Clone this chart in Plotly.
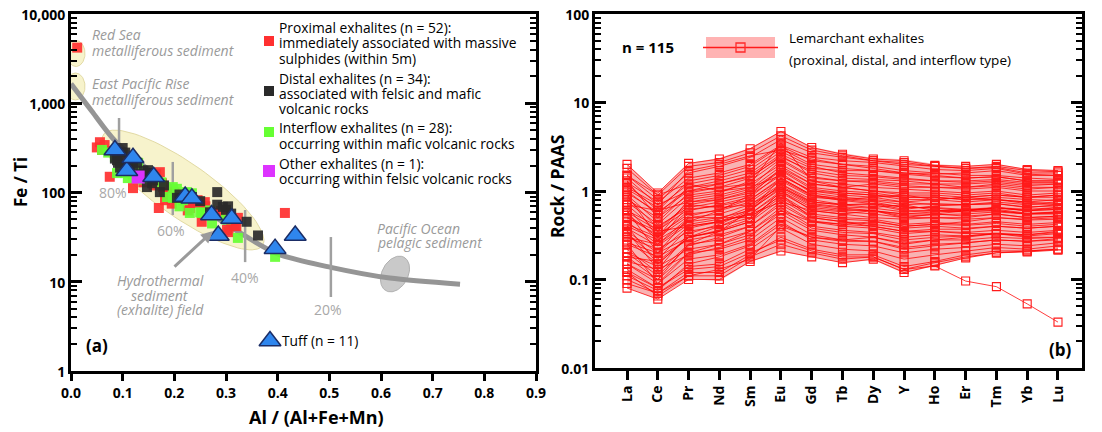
import numpy as np
import plotly.graph_objects as go

# ---------------- Panel (a) data ----------------
prox_x = [0.012, 0.050, 0.056, 0.060, 0.065, 0.075, 0.080, 0.090, 0.095, 0.099, 0.100, 0.105, 0.108, 0.110,
          0.115, 0.120, 0.125, 0.130, 0.140, 0.150, 0.160, 0.165, 0.170, 0.172, 0.176, 0.178, 0.180, 0.182,
          0.190, 0.195, 0.200, 0.215, 0.220, 0.226, 0.230, 0.235, 0.240, 0.245, 0.253, 0.259, 0.260, 0.279,
          0.290, 0.300, 0.302, 0.304, 0.305, 0.310, 0.312, 0.317, 0.320, 0.323, 0.414]
prox_y = [4200, 320, 366, 300, 340, 150, 290, 260, 192, 250, 230, 203, 219, 200,
          180, 112, 170, 150, 130, 140, 120, 160, 67, 169, 127, 115, 105, 82,
          95, 75, 100, 88, 82, 63, 67, 80, 76, 82, 47, 78, 70, 59,
          62, 54, 38, 56, 36, 48, 47, 43, 42, 52, 59]

dist_x = [0.085, 0.089, 0.091, 0.095, 0.099, 0.100, 0.105, 0.110, 0.114, 0.120, 0.128, 0.135, 0.140, 0.147,
          0.147, 0.149, 0.153, 0.157, 0.159, 0.172, 0.180, 0.205, 0.210, 0.234, 0.250, 0.269, 0.283, 0.283,
          0.294, 0.300, 0.304, 0.310, 0.340, 0.362]
dist_y = [240, 230, 215, 190, 262, 315, 280, 200, 178, 190, 215, 160, 175, 150,
          115, 178, 165, 127, 137, 101, 120, 87, 95, 89, 80, 60, 101, 73,
          69, 64, 70, 58, 47, 33]

intf_x = [0.060, 0.072, 0.085, 0.089, 0.095, 0.105, 0.110, 0.120, 0.128, 0.130, 0.140, 0.155, 0.175, 0.186,
          0.197, 0.197, 0.205, 0.210, 0.217, 0.224, 0.230, 0.234, 0.250, 0.253, 0.269, 0.273, 0.300, 0.323, 0.395]
intf_y = [300, 280, 250, 165, 200, 165, 145, 160, 193, 215, 140, 150, 130, 89,
          115, 87, 110, 70, 82, 101, 59, 98, 60, 59, 63, 45, 50, 31, 19]

other_x = [0.130]
other_y = [149]

tuff_x = [0.085, 0.108, 0.120, 0.221, 0.234, 0.272, 0.285, 0.311, 0.395, 0.434, 0.160]
tuff_y = [300, 175, 245, 90, 86, 56, 33, 51, 23.5, 33, 150]

# mixing curve and percent markers
curve_x = [0.0, 0.04, 0.087, 0.197, 0.337, 0.40, 0.503, 0.617, 0.753]
curve_y = [1650, 820, 370, 112, 32.6, 20.5, 14.5, 11.0, 9.4]
pct_labels = ["80%", "60%", "40%", "20%"]
pct_x = [0.093, 0.197, 0.337, 0.503]
pct_ylo = [299, 56, 16.6, 6.75]
pct_yhi = [684, 220, 63.7, 31.7]

# ---------------- Panel (b) data ----------------
elements = ["La", "Ce", "Pr", "Nd", "Sm", "Eu", "Gd", "Tb", "Dy", "Y", "Ho", "Er", "Tm", "Yb", "Lu"]
band_hi = [2.02, 0.95, 2.07, 2.36, 3.06, 4.76, 3.14, 2.69, 2.36, 2.29, 2.02, 1.92, 2.02, 1.77, 1.73]
band_lo = [0.080, 0.060, 0.101, 0.096, 0.158, 0.205, 0.180, 0.154, 0.166, 0.118, 0.142, 0.175, 0.200, 0.205, 0.215]
samples = [
    [2.0, 0.95, 2.05, 2.3, 3.0, 4.7, 3.1, 2.6, 2.3, 2.2, 1.95, 1.9, 2.0, 1.75, 1.7],
    [1.5, 0.8, 1.6, 1.9, 2.4, 3.8, 2.7, 2.4, 2.2, 2.1, 1.9, 1.8, 1.85, 1.6, 1.6],
    [1.2, 0.6, 1.3, 1.5, 1.9, 3.2, 2.2, 2.0, 1.9, 1.7, 1.6, 1.5, 1.5, 1.4, 1.35],
    [1.0, 0.55, 1.1, 1.3, 1.6, 2.8, 1.9, 1.6, 1.5, 1.4, 1.3, 1.25, 1.3, 1.2, 1.2],
    [0.9, 0.45, 0.95, 1.1, 1.4, 2.5, 1.6, 1.4, 1.35, 1.3, 1.2, 1.1, 1.15, 1.05, 1.1],
    [0.8, 0.5, 0.9, 1.0, 1.2, 2.0, 1.3, 1.2, 1.1, 1.05, 1.0, 0.95, 1.0, 0.9, 0.95],
    [0.7, 0.35, 0.75, 0.85, 1.05, 1.9, 1.2, 1.1, 1.0, 0.9, 0.9, 0.85, 0.9, 0.85, 0.85],
    [0.6, 0.4, 0.65, 0.75, 0.9, 1.5, 1.0, 0.95, 0.9, 0.8, 0.8, 0.75, 0.8, 0.75, 0.8],
    [0.55, 0.3, 0.6, 0.7, 0.85, 1.6, 0.95, 0.85, 0.8, 0.75, 0.7, 0.7, 0.72, 0.65, 0.7],
    [0.5, 0.32, 0.55, 0.6, 0.75, 1.3, 0.85, 0.8, 0.75, 0.65, 0.65, 0.62, 0.65, 0.6, 0.62],
    [0.45, 0.25, 0.5, 0.55, 0.7, 1.2, 0.8, 0.7, 0.7, 0.6, 0.6, 0.58, 0.6, 0.55, 0.58],
    [0.4, 0.28, 0.45, 0.5, 0.6, 1.1, 0.7, 0.65, 0.6, 0.55, 0.55, 0.52, 0.55, 0.5, 0.52],
    [0.35, 0.2, 0.4, 0.45, 0.55, 0.95, 0.62, 0.58, 0.55, 0.5, 0.5, 0.48, 0.5, 0.47, 0.48],
    [0.3, 0.22, 0.35, 0.4, 0.5, 0.9, 0.55, 0.5, 0.48, 0.42, 0.44, 0.42, 0.45, 0.42, 0.44],
    [0.28, 0.15, 0.3, 0.35, 0.45, 0.8, 0.5, 0.45, 0.42, 0.38, 0.4, 0.38, 0.4, 0.38, 0.4],
    [0.25, 0.18, 0.28, 0.32, 0.4, 0.7, 0.45, 0.4, 0.38, 0.33, 0.35, 0.34, 0.36, 0.34, 0.36],
    [0.22, 0.12, 0.25, 0.28, 0.35, 0.65, 0.4, 0.36, 0.34, 0.3, 0.32, 0.31, 0.33, 0.31, 0.33],
    [0.2, 0.14, 0.22, 0.25, 0.32, 0.55, 0.36, 0.32, 0.3, 0.26, 0.28, 0.28, 0.3, 0.29, 0.3],
    [0.18, 0.1, 0.2, 0.22, 0.28, 0.5, 0.32, 0.28, 0.27, 0.23, 0.25, 0.26, 0.28, 0.27, 0.28],
    [0.15, 0.09, 0.17, 0.19, 0.25, 0.45, 0.28, 0.25, 0.24, 0.2, 0.22, 0.23, 0.25, 0.24, 0.26],
    [0.13, 0.08, 0.14, 0.15, 0.22, 0.38, 0.25, 0.22, 0.21, 0.17, 0.19, 0.21, 0.23, 0.22, 0.24],
    [0.1, 0.07, 0.12, 0.12, 0.19, 0.3, 0.22, 0.19, 0.19, 0.14, 0.16, 0.19, 0.21, 0.21, 0.22],
    [0.08, 0.06, 0.1, 0.1, 0.16, 0.21, 0.18, 0.155, 0.17, 0.12, 0.145, 0.175, 0.2, 0.205, 0.215],
    [0.12, 0.08, 0.13, 0.14, 0.2, 0.28, 0.21, 0.18, 0.18, 0.13, 0.142, 0.096, 0.083, 0.053, 0.033],
    [1.5, 0.9, 1.2, 1.0, 1.1, 1.5, 1.0, 0.9, 0.85, 0.9, 0.8, 0.85, 0.8, 0.75, 0.7],
    [0.3, 0.25, 0.45, 0.6, 0.9, 1.8, 1.2, 1.1, 1.2, 1.1, 1.1, 1.1, 1.2, 1.1, 1.1],
    [0.15, 0.1, 0.25, 0.35, 0.6, 1.4, 0.9, 0.8, 0.85, 0.75, 0.8, 0.85, 0.9, 0.85, 0.9],
    [0.6, 0.2, 0.5, 0.5, 0.5, 0.9, 0.5, 0.45, 0.4, 0.35, 0.35, 0.33, 0.33, 0.3, 0.3],
    [1.1, 0.7, 1.0, 1.1, 1.2, 3.5, 1.3, 1.1, 1.0, 0.95, 0.95, 0.9, 0.95, 0.85, 0.9],
    [0.9, 0.3, 0.8, 0.9, 1.1, 2.2, 1.4, 1.3, 1.3, 1.2, 1.2, 1.2, 1.25, 1.15, 1.2],
    [0.4, 0.15, 0.3, 0.35, 0.45, 1.0, 0.6, 0.55, 0.6, 0.5, 0.55, 0.6, 0.65, 0.6, 0.65],
    [0.25, 0.09, 0.2, 0.25, 0.35, 0.6, 0.45, 0.42, 0.45, 0.4, 0.42, 0.45, 0.5, 0.48, 0.5],
    [0.7, 0.6, 0.75, 0.8, 0.95, 1.7, 1.05, 0.95, 0.9, 0.85, 0.85, 0.8, 0.8, 0.72, 0.75],
    [0.18, 0.16, 0.3, 0.4, 0.55, 1.0, 0.65, 0.6, 0.6, 0.55, 0.58, 0.6, 0.65, 0.62, 0.65],
    [1.3, 0.5, 1.1, 1.2, 1.5, 2.6, 1.8, 1.7, 1.7, 1.6, 1.55, 1.6, 1.7, 1.5, 1.5],
    [0.35, 0.13, 0.33, 0.42, 0.6, 1.2, 0.75, 0.7, 0.72, 0.62, 0.68, 0.7, 0.75, 0.7, 0.72],
    [0.5, 0.35, 0.4, 0.45, 0.55, 0.75, 0.6, 0.55, 0.5, 0.48, 0.5, 0.5, 0.55, 0.5, 0.52],
    [0.12, 0.065, 0.11, 0.13, 0.17, 0.4, 0.3, 0.28, 0.3, 0.25, 0.28, 0.3, 0.33, 0.32, 0.35],
    [1.4, 0.7, 1.7, 2.0, 2.5, 2.9, 2.3, 2.0, 1.8, 1.6, 1.5, 1.4, 1.45, 1.3, 1.3],
    [0.85, 0.38, 0.7, 0.65, 0.7, 1.1, 0.75, 0.7, 0.65, 0.7, 0.6, 0.62, 0.6, 0.55, 0.55],
    [1.8, 0.9, 1.9, 2.1, 2.7, 4.2, 2.9, 2.5, 2.2, 2.0, 1.9, 1.8, 1.9, 1.7, 1.65],
    [1.05, 0.65, 1.2, 1.4, 1.75, 3.0, 2.0, 1.8, 1.7, 1.55, 1.45, 1.4, 1.45, 1.3, 1.3],
    [0.75, 0.42, 0.85, 0.95, 1.3, 2.3, 1.45, 1.3, 1.25, 1.15, 1.1, 1.05, 1.1, 1.0, 1.0],
    [0.65, 0.27, 0.7, 0.8, 1.0, 1.75, 1.1, 1.0, 0.95, 0.85, 0.85, 0.8, 0.85, 0.8, 0.78],
    [0.42, 0.3, 0.52, 0.62, 0.8, 1.4, 0.9, 0.82, 0.78, 0.7, 0.72, 0.7, 0.72, 0.66, 0.68],
    [0.33, 0.17, 0.38, 0.45, 0.62, 1.05, 0.68, 0.62, 0.6, 0.52, 0.54, 0.55, 0.58, 0.55, 0.56],
    [0.26, 0.2, 0.3, 0.36, 0.48, 0.85, 0.52, 0.48, 0.46, 0.4, 0.42, 0.41, 0.43, 0.4, 0.42],
    [0.2, 0.11, 0.24, 0.3, 0.4, 0.75, 0.46, 0.42, 0.4, 0.35, 0.37, 0.37, 0.4, 0.38, 0.4],
    [0.16, 0.13, 0.19, 0.23, 0.3, 0.6, 0.38, 0.34, 0.33, 0.28, 0.3, 0.31, 0.33, 0.32, 0.34],
    [0.11, 0.075, 0.15, 0.18, 0.24, 0.42, 0.3, 0.27, 0.27, 0.22, 0.24, 0.26, 0.28, 0.27, 0.29],
    [0.09, 0.07, 0.11, 0.11, 0.18, 0.25, 0.2, 0.17, 0.18, 0.13, 0.155, 0.18, 0.2, 0.21, 0.22],
    [1.25, 0.75, 1.4, 1.6, 2.0, 3.3, 2.4, 2.2, 2.1, 1.9, 1.75, 1.7, 1.8, 1.55, 1.5],
    [0.95, 0.58, 1.0, 1.2, 1.45, 2.4, 1.7, 1.5, 1.45, 1.35, 1.3, 1.3, 1.35, 1.25, 1.25],
    [0.58, 0.36, 0.62, 0.68, 0.8, 1.35, 0.88, 0.78, 0.72, 0.66, 0.64, 0.6, 0.62, 0.56, 0.58],
    [0.38, 0.24, 0.42, 0.48, 0.66, 1.15, 0.72, 0.66, 0.64, 0.58, 0.6, 0.6, 0.64, 0.6, 0.62],
]

# ---------------- geometry helpers (page body has an 8 px margin) ----------------
OX, OY = 8, 8
W, H = 1094, 424
def PX(p): return (p - OX) / W
def PY(p): return 1 - (p - OY) / H

AX0, AX1, AY0, AY1 = 71, 536, 371, 14          # panel (a) plot area, screen pixels
BX0, BX1, BY0, BY1 = 595, 1082, 368, 14         # panel (b) plot area, screen pixels
XR_A = [0, 0.9]
YR_A = [0, 4]

def to_x(p):
    return XR_A[0] + (np.asarray(p) - AX0) / (AX1 - AX0) * (XR_A[1] - XR_A[0])

def to_y(p):
    return 10 ** (YR_A[0] + (AY0 - np.asarray(p)) / (AY0 - AY1) * (YR_A[1] - YR_A[0]))

def ellipse(cx, cy, a, b, ang_deg, n=90):
    t = np.linspace(0, 2 * np.pi, n)
    ang = np.radians(ang_deg)
    xs = cx + a * np.cos(t) * np.cos(ang) - b * np.sin(t) * np.sin(ang)
    ys = cy + a * np.cos(t) * np.sin(ang) + b * np.sin(t) * np.cos(ang)
    return to_x(xs), to_y(ys)

FONT = "Open Sans"
GRAY = "#9a9a9a"
RED = "#ff3030"
BLACK_PT = "#2a2a2a"
GREEN = "#66ff33"
MAG = "#dd33ff"
BLUE = "#2f86ee"

fig = go.Figure()

# field ellipses
for (cx, cy, a, b, ang, fc, lc) in [
    (183, 190, 97, 27, 35, "#f7f3cc", "#e2daa4"),
    (76, 53.5, 13, 9, 90, "#f7f3cc", "#e2daa4"),
    (75.5, 86.5, 13.5, 9.5, 90, "#f7f3cc", "#e2daa4"),
    (395, 274, 19, 13, -62, "#c9c9c9", "#b0b0b0"),
]:
    ex, ey = ellipse(cx, cy, a, b, ang)
    fig.add_trace(go.Scatter(x=ex, y=ey, mode="lines", fill="toself", fillcolor=fc,
                             line=dict(color=lc, width=1), hoverinfo="skip", showlegend=False,
                             xaxis="x", yaxis="y"))

# mixing curve
fig.add_trace(go.Scatter(x=curve_x, y=curve_y, mode="lines", line=dict(color="#959595", width=5, shape="spline", smoothing=0.8),
                         hoverinfo="skip", showlegend=False, xaxis="x", yaxis="y"))
# percent tick lines
for i in range(len(pct_x)):
    fig.add_trace(go.Scatter(x=[pct_x[i], pct_x[i]], y=[pct_ylo[i], pct_yhi[i]], mode="lines",
                             line=dict(color="#a0a0a0", width=2.5), hoverinfo="skip", showlegend=False,
                             xaxis="x", yaxis="y"))

sq = dict(symbol="square", size=10, line=dict(width=0))
fig.add_trace(go.Scatter(x=prox_x, y=prox_y, mode="markers", marker=dict(color=RED, opacity=0.92, **sq),
                         showlegend=False, xaxis="x", yaxis="y"))
fig.add_trace(go.Scatter(x=intf_x, y=intf_y, mode="markers", marker=dict(color=GREEN, opacity=0.92, **sq),
                         showlegend=False, xaxis="x", yaxis="y"))
fig.add_trace(go.Scatter(x=dist_x, y=dist_y, mode="markers", marker=dict(color=BLACK_PT, opacity=0.92, **sq),
                         showlegend=False, xaxis="x", yaxis="y"))
fig.add_trace(go.Scatter(x=other_x, y=other_y, mode="markers",
                         marker=dict(color=MAG, symbol="square", size=13, line=dict(width=0)),
                         showlegend=False, xaxis="x", yaxis="y"))
tri = dict(symbol="triangle-up", size=19, color=BLUE, line=dict(color="#1b2d66", width=1.5))
fig.add_trace(go.Scatter(x=tuff_x, y=tuff_y, mode="markers", marker=tri, showlegend=False, xaxis="x", yaxis="y"))

# legend keys of panel (a)
fig.add_trace(go.Scatter(x=to_x([269, 269, 269]), y=to_y([41, 91, 132]), mode="markers",
                         marker=dict(color=[RED, BLACK_PT, GREEN], **sq), showlegend=False, xaxis="x", yaxis="y"))
fig.add_trace(go.Scatter(x=to_x([269]), y=to_y([171]), mode="markers",
                         marker=dict(color=MAG, symbol="square", size=12, line=dict(width=0)),
                         showlegend=False, xaxis="x", yaxis="y"))
fig.add_trace(go.Scatter(x=to_x([270]), y=to_y([341]), mode="markers", marker=tri,
                         showlegend=False, xaxis="x", yaxis="y"))

# ---------------- panel (b) ----------------
idx = list(range(len(elements)))
fig.add_trace(go.Scatter(x=idx, y=band_lo, mode="lines", line=dict(width=0, color="rgba(0,0,0,0)"),
                         showlegend=False, hoverinfo="skip", xaxis="x2", yaxis="y2"))
fig.add_trace(go.Scatter(x=idx, y=band_hi, mode="lines", line=dict(width=0, color="rgba(0,0,0,0)"),
                         fill="tonexty", fillcolor="#f8b3b3", showlegend=False, hoverinfo="skip",
                         xaxis="x2", yaxis="y2"))
lx, ly = [], []
for s in samples:
    lx += idx + [None]
    ly += s + [None]
fig.add_trace(go.Scatter(x=lx, y=ly, mode="lines+markers",
                         line=dict(color="rgba(255,0,0,0.85)", width=0.9),
                         marker=dict(symbol="square-open", size=8, color="#ff1a1a", line=dict(width=1.1)),
                         showlegend=False, xaxis="x2", yaxis="y2"))

# ---------------- annotations ----------------
ann = []
def text(px, py, t, size=13, color="black", xanchor="left", bold=False, italic=False, angle=0):
    tt = t
    if italic:
        tt = "<i>" + tt + "</i>"
    ann.append(dict(x=PX(px), y=PY(py), xref="paper", yref="paper", text=tt, showarrow=False,
                    xanchor=xanchor, yanchor="middle", textangle=angle, borderpad=0,
                    font=dict(family=FONT, size=size, color=color, weight="bold" if bold else "normal")))

# legend (a)
leg_lines = [
    (28, "Proximal exhalites (n = 52):"), (43, "immediately associated with massive"), (58, "sulphides (within 5m)"),
    (78, "Distal exhalites (n = 34):"), (93, "associated with felsic and mafic"), (108, "volcanic rocks"),
    (128, "Interflow exhalites (n = 28):"), (143, "occurring within mafic volcanic rocks"),
    (163, "Other exhalites (n = 1):"), (178, "occurring within felsic volcanic rocks"),
]
for yy, t in leg_lines:
    text(278, yy, t, size=13.8)
text(281, 340, "Tuff (n = 11)", size=13.8)

# gray labels
for yy, t in [(35, "Red Sea"), (50, "metalliferous sediment"), (84, "East Pacific Rise"), (99, "metalliferous sediment")]:
    text(91, yy, t, size=14, color=GRAY, italic=True)
for yy, t in [(228, "Pacific Ocean"), (243, "pelagic sediment")]:
    text(376, yy, t, size=14, color=GRAY, italic=True)
for yy, t in [(280, "Hydrothermal"), (295, "sediment"), (309, "(exhalite) field")]:
    text(160, yy, t, size=14, color=GRAY, italic=True, xanchor="center")
for (xx, yy), t in zip([(113, 192), (171, 230), (245, 277), (328, 309)], pct_labels):
    text(xx, yy, t, size=14, color="#a8a8a8", xanchor="center")

# arrow
ann.append(dict(x=PX(213), y=PY(231), xref="paper", yref="paper", text="", showarrow=True,
                ax=-40, ay=37, axref="pixel", ayref="pixel", arrowcolor="#9a9a9a", arrowwidth=3,
                arrowhead=2, arrowsize=0.8))

text(97, 345, "(a)", size=17, bold=True, xanchor="center")
text(1060, 349, "(b)", size=17, bold=True, xanchor="center")
text(648, 47, "n = 115", size=15, bold=True, xanchor="center")
text(788, 38, "Lemarchant exhalites", size=13.5)
text(788, 60, "(proxinal, distal, and interflow type)", size=13.5)

# axis titles
text(20, 182, "Fe / Ti", size=17, bold=True, xanchor="center", angle=-90)
text(316, 417, "Al / (Al+Fe+Mn)", size=18, bold=True, xanchor="center")
text(557, 187, "Rock / PAAS", size=17.5, bold=True, xanchor="center", angle=-90)

# legend (b) key
shapes = [
    dict(type="rect", xref="paper", yref="paper", x0=PX(706), x1=PX(775), y0=PY(58), y1=PY(37),
         fillcolor="#ffb3b3", line=dict(width=0), layer="above"),
    dict(type="line", xref="paper", yref="paper", x0=PX(703), x1=PX(778), y0=PY(47.5), y1=PY(47.5),
         line=dict(color="#ff1a1a", width=1.3), layer="above"),
    dict(type="rect", xref="paper", yref="paper", x0=PX(736), x1=PX(745), y0=PY(52), y1=PY(43),
         fillcolor="rgba(0,0,0,0)", line=dict(color="#ff2a2a", width=1.3), layer="above"),
]

tickfont = dict(family=FONT, size=14, color="black", weight="bold")
common = dict(showgrid=False, zeroline=False, linecolor="black", linewidth=3, tickcolor="black",
              tickwidth=2.5, tickfont=tickfont, automargin=False, ticklabeloverflow="allow")
minor = dict(ticks="inside", ticklen=6, tickwidth=2, tickcolor="black", dtick="D1", showgrid=False)

fig.update_layout(
    width=W, height=H, margin=dict(l=0, r=0, t=0, b=0, autoexpand=False),
    paper_bgcolor="white", plot_bgcolor="white", showlegend=False,
    xaxis=dict(domain=[PX(AX0), PX(AX1)], range=XR_A, dtick=0.1, tick0=0, tickformat=".1f",
               ticks="outside", ticklen=7, mirror=True, anchor="y", **common),
    yaxis=dict(domain=[PY(AY0), PY(AY1)], type="log", range=YR_A,
               tickvals=[1, 10, 100, 1000, 10000], ticktext=["1", "10", "100", "1,000", "10,000"],
               ticks="inside", ticklen=11, mirror="ticks", anchor="x", minor=minor,
               ticklabelshift=1, **common),
    xaxis2=dict(domain=[PX(BX0), PX(BX1)], range=[-1.04, 14.78], tickvals=idx, ticktext=elements,
                tickangle=-90, ticks="outside", ticklen=9, mirror=True, anchor="y2", **common),
    yaxis2=dict(domain=[PY(BY0), PY(BY1)], type="log", range=[-2, 2],
                tickvals=[0.01, 0.1, 1, 10, 100], ticktext=["0.01", "0.1", "1", "10", "100"],
                ticks="inside", ticklen=11, mirror="ticks", anchor="x2", minor=minor,
                ticklabelshift=1, **common),
    annotations=ann, shapes=shapes,
)

fig.write_html("out.html")
